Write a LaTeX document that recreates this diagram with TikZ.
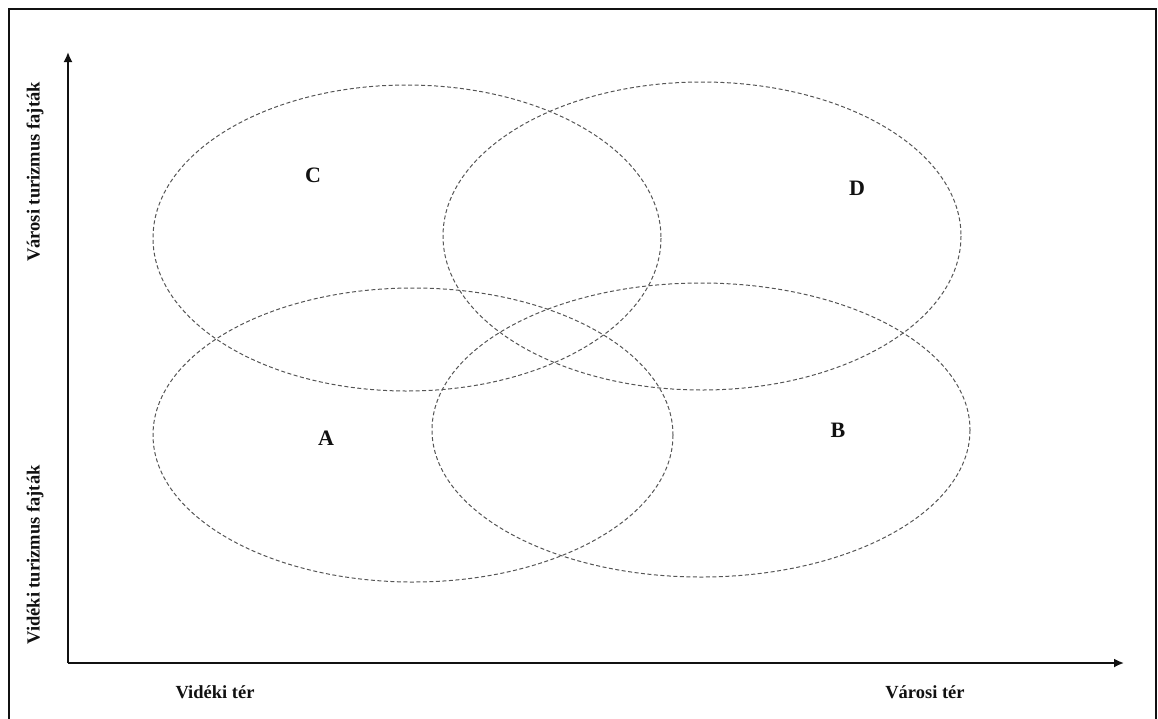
\documentclass[tikz,border=0pt]{standalone}
\usepackage{fontspec}
\setmainfont{Liberation Serif}
\usetikzlibrary{arrows.meta,positioning}
\definecolor{ink}{HTML}{111111}
\definecolor{dashgray}{HTML}{555555}

\begin{document}
\begin{tikzpicture}[x=1pt,y=-1pt,
  frame/.style={line width=1.8pt, draw=ink},
  axis/.style={-{Latex[length=10pt,width=9pt]}, line width=1.8pt, draw=ink},
  zone/.style={dashed, dash pattern=on 4pt off 2.5pt, line width=1pt, draw=dashgray},
  letter/.style={font=\fontsize{22}{26}\selectfont\bfseries, text=ink},
  axlabel/.style={font=\fontsize{18.5}{22}\selectfont\bfseries, text=ink}
]
  \useasboundingbox (0,0) rectangle (1158,718);
  \draw[frame] (9,722) -- (9,9) -- (1156,9) -- (1156,722);

  % axes
  \coordinate (origin) at (68,663);
  \coordinate (ytop) at (68,52);
  \coordinate (xend) at (1124,663);
  \draw[axis] (origin) -- (ytop);
  \draw[axis] (origin) -- (xend);

  % overlapping zones
  \draw[zone] (407,238) ellipse [x radius=254, y radius=153];
  \draw[zone] (702,236) ellipse [x radius=259, y radius=154];
  \draw[zone] (413,435) ellipse [x radius=260, y radius=147];
  \draw[zone] (701,430) ellipse [x radius=269, y radius=147];

  \node[letter] (c) at (313,175) {C};
  \node[letter] (d) at (857,188) {D};
  \node[letter] (a) at (326,438) {A};
  \node[letter] (b) at (838,430) {B};

  \node[axlabel,rotate=90] (yhigh) at (35,172) {Városi turizmus fajták};
  \node[axlabel,rotate=90] (ylow) at (35,555) {Vidéki turizmus fajták};
  \node[axlabel] (xlow) at (215,692) {Vidéki tér};
  \node[axlabel] (xhigh) at (925,692) {Városi tér};
\end{tikzpicture}
\end{document}
